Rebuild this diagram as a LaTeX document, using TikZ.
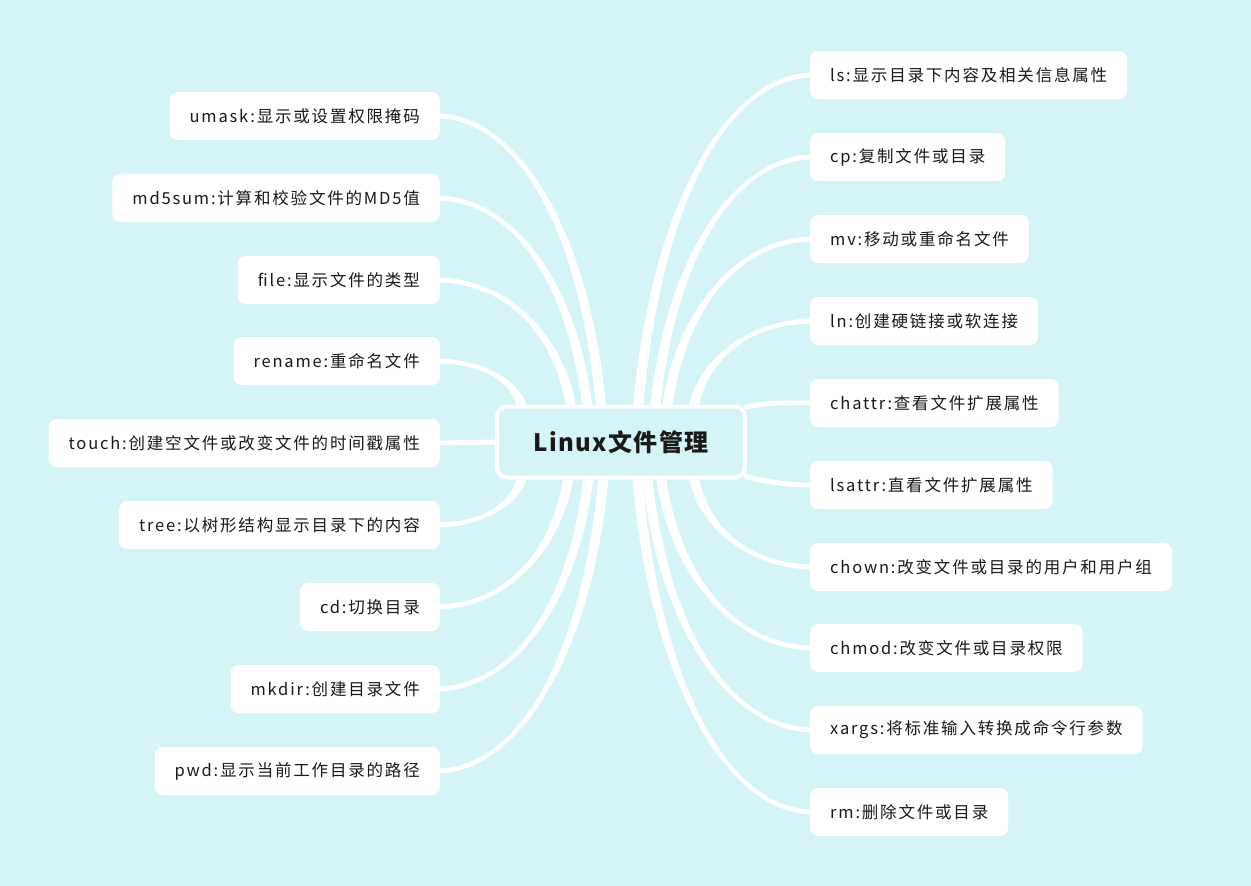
\documentclass[tikz,border=0pt]{standalone}
\usepackage{fontspec}
\newfontfamily\cjk[LetterSpace=11]{Noto Sans CJK SC}
\newfontfamily\cjkt[LetterSpace=6]{Noto Sans CJK SC}
\usetikzlibrary{calc}
\definecolor{bgc}{RGB}{213,244,247}
\definecolor{txt}{RGB}{25,25,25}
\pgfdeclarelayer{bglayer}
\pgfdeclarelayer{branches}
\pgfsetlayers{bglayer,branches,main}
% #1 start, #2 end, #3 sign
\newcommand\branchto[3]{%
  \fill[white] let \p1=(#1), \p2=(#2), \n1={\x2-\x1}, \n2={\y2-\y1}, \n3={(#3)*2.5pt} in
   ({\x1-5pt},{\y1}) .. controls ({\x1-5pt+0.1*\n1},{\y1+0.6*\n2}) and ({\x2-0.5*\n1},{\y2+\n3}) .. ({\x2},{\y2+\n3})
   -- ({\x2},{\y2-\n3}) .. controls ({\x2-0.5*\n1},{\y2-\n3}) and ({\x1+5pt+0.1*\n1},{\y1+0.6*\n2}) .. ({\x1+5pt},{\y1}) -- cycle;}
\tikzset{
  leaf/.style={fill=white, rounded corners=8pt, inner xsep=20pt, inner ysep=0pt,
    minimum height=48pt, text=txt, font=\cjk\fontsize{16.5}{16.5}\selectfont},
  rleaf/.style={leaf, anchor=west},
  lleaf/.style={leaf, anchor=east},
  hub/.style={draw=white, line width=4pt, fill=bgc, rounded corners=10pt,
    minimum width=248pt, minimum height=71pt, text=txt, font=\cjkt\bfseries\fontsize{24}{24}\selectfont},
  link/.style={draw=white, line width=5pt}
}
\begin{document}
\begin{tikzpicture}[x=1pt,y=-1pt]
\begin{pgfonlayer}{bglayer}
\fill[bgc] (0,0) rectangle (1251,886);
\end{pgfonlayer}
\useasboundingbox (0,0) rectangle (1251,886);

\node[hub] (c) at (621,442) {Linux文件管理};

% right
\node[rleaf] (ls) at (810,75) {ls:显示目录下内容及相关信息属性};
\node[rleaf] (cp) at (810,157) {cp:复制文件或目录};
\node[rleaf] (mv) at (810,239) {mv:移动或重命名文件};
\node[rleaf] (ln) at (810,321) {ln:创建硬链接或软连接};
\node[rleaf] (chattr) at (810,403) {chattr:查看文件扩展属性};
\node[rleaf] (lsattr) at (810,485) {lsattr:直看文件扩展属性};
\node[rleaf] (chown) at (810,567) {chown:改变文件或目录的用户和用户组};
\node[rleaf] (chmod) at (810,648) {chmod:改变文件或目录权限};
\node[rleaf] (xargs) at (810,730) {xargs:将标准输入转换成命令行参数};
\node[rleaf] (rm) at (810,812) {rm:删除文件或目录};

% left
\node[lleaf] (umask) at (440,116) {umask:显示或设置权限掩码};
\node[lleaf] (md5) at (440,198) {md5sum:计算和校验文件的MD5值};
\node[lleaf] (file) at (440,280) {file:显示文件的类型};
\node[lleaf] (rename) at (440,361) {rename:重命名文件};
\node[lleaf] (touch) at (440,443) {touch:创建空文件或改变文件的时间戳属性};
\node[lleaf] (tree) at (440,525) {tree:以树形结构显示目录下的内容};
\node[lleaf] (cd) at (440,607) {cd:切换目录};
\node[lleaf] (mkdir) at (440,689) {mkdir:创建目录文件};
\node[lleaf] (pwd) at (440,771) {pwd:显示当前工作目录的路径};

\begin{pgfonlayer}{branches}
% right upper
\branchto{$(c.north west)!0.569!(c.north east)$}{$(ls.west)+(4,0)$}{1}
\branchto{$(c.north west)!0.637!(c.north east)$}{$(cp.west)+(4,0)$}{1}
\branchto{$(c.north west)!0.685!(c.north east)$}{$(mv.west)+(4,0)$}{1}
\branchto{$(c.north west)!0.79!(c.north east)$}{$(ln.west)+(4,0)$}{1}
% right lower
\branchto{$(c.south west)!0.79!(c.south east)$}{$(chown.west)+(4,0)$}{-1}
\branchto{$(c.south west)!0.66!(c.south east)$}{$(chmod.west)+(4,0)$}{-1}
\branchto{$(c.south west)!0.605!(c.south east)$}{$(xargs.west)+(4,0)$}{-1}
\branchto{$(c.south west)!0.565!(c.south east)$}{$(rm.west)+(4,0)$}{-1}
% left upper
\branchto{$(c.north west)!0.42!(c.north east)$}{$(umask.east)+(-4,0)$}{-1}
\branchto{$(c.north west)!0.365!(c.north east)$}{$(md5.east)+(-4,0)$}{-1}
\branchto{$(c.north west)!0.30!(c.north east)$}{$(file.east)+(-4,0)$}{-1}
\branchto{$(c.north west)!0.105!(c.north east)$}{$(rename.east)+(-4,0)$}{-1}
% left lower
\branchto{$(c.south west)!0.105!(c.south east)$}{$(tree.east)+(-4,0)$}{1}
\branchto{$(c.south west)!0.29!(c.south east)$}{$(cd.east)+(-4,0)$}{1}
\branchto{$(c.south west)!0.37!(c.south east)$}{$(mkdir.east)+(-4,0)$}{1}
\branchto{$(c.south west)!0.43!(c.south east)$}{$(pwd.east)+(-4,0)$}{1}
% straight-ish
\draw[link] (c.west) -- (touch.east);
\draw[link] ($(c.north east)+(-3,3)$) .. controls +(30,-6) and +(-25,0) .. (chattr.west);
\draw[link] ($(c.south east)+(-3,-3)$) .. controls +(30,6) and +(-25,0) .. (lsattr.west);
\end{pgfonlayer}
\end{tikzpicture}
\end{document}
